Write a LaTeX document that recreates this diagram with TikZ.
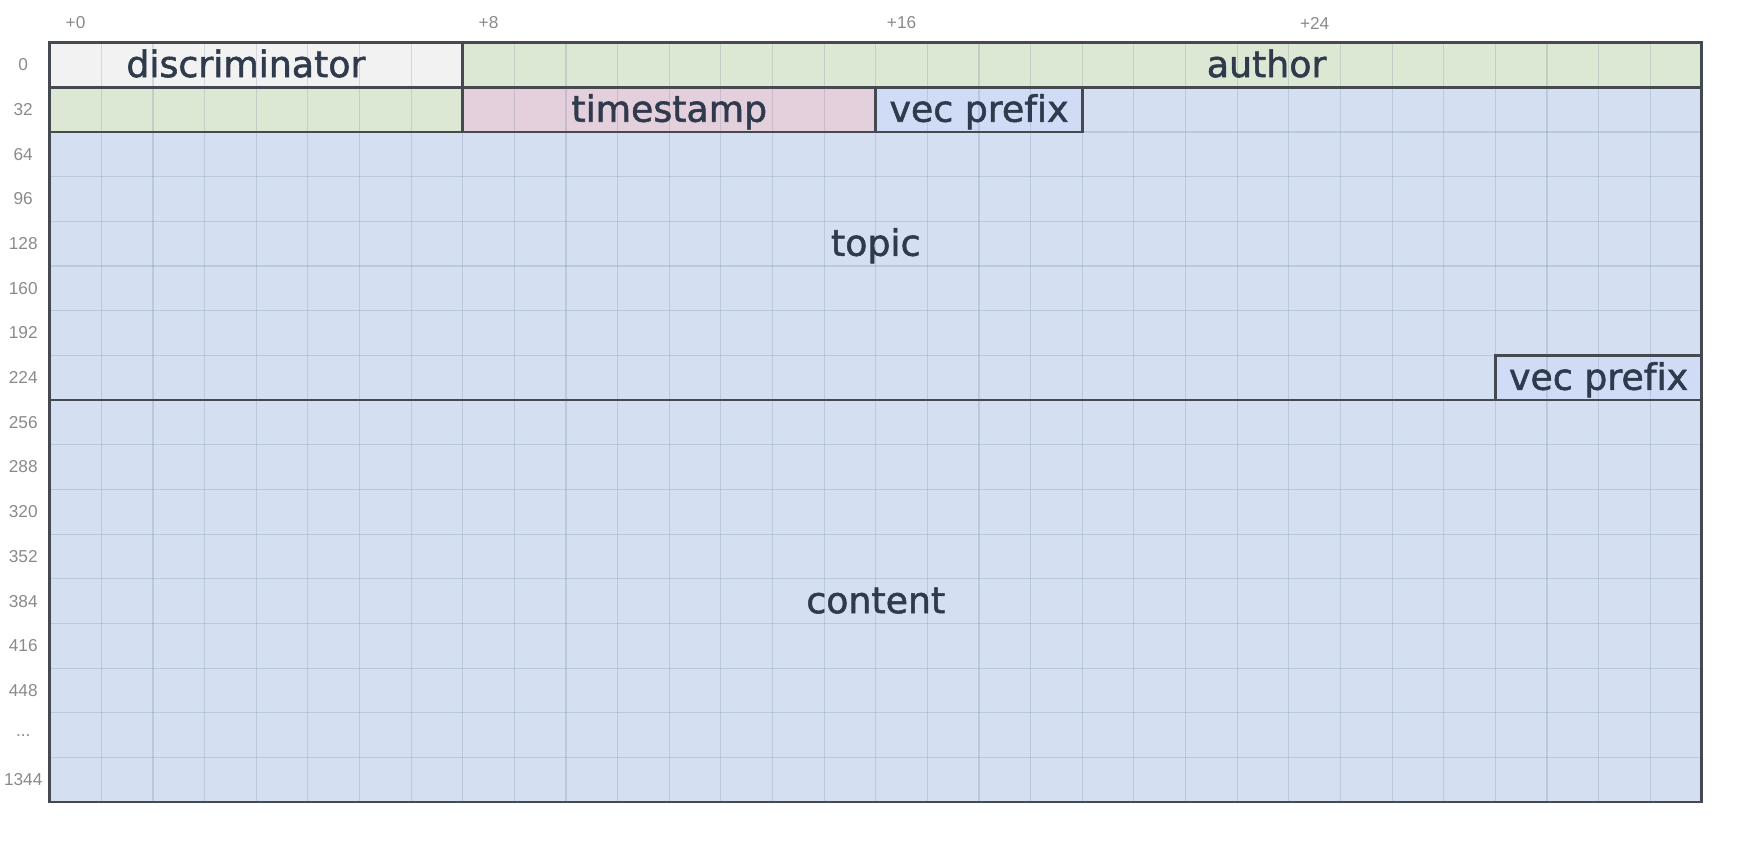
\documentclass[tikz,border=0pt]{standalone}
\usepackage{fontspec}
\setmainfont{DejaVu Sans}
\newfontfamily\namefont{DejaVu Sans}[FakeBold=1.5, Ligatures=NoCommon]
\newfontfamily\offsetfont{Liberation Sans}

\definecolor{discfill}{HTML}{F2F2F2}
\definecolor{authorfill}{HTML}{DDE8D4}
\definecolor{stampfill}{HTML}{E4CFDC}
\definecolor{topicfill}{HTML}{D4E0F1}
\definecolor{vecfill}{HTML}{D0DCF6}
\definecolor{edgecol}{HTML}{454A50}
\definecolor{gridcol}{HTML}{5A6F8A}
\definecolor{namecol}{HTML}{2F3A4C}
\definecolor{offsetcol}{HTML}{8A8A8A}

\tikzset{
	gridline/.style={draw=gridcol, draw opacity=0.2, line width=0.6pt},
	fieldedge/.style={draw=edgecol, line width=1.5pt, line cap=rect},
	fieldname/.style={text=namecol, font=\namefont\fontsize{20}{24}\selectfont, anchor=base, inner sep=0pt},
	offsetlabel/.style={text=offsetcol, font=\offsetfont\fontsize{9.5}{11}\selectfont, inner sep=0pt}
}

\begin{document}
\begin{tikzpicture}[x=1cm, y=-0.8653cm]
	\useasboundingbox (-0.963,-0.955) rectangle (33.03,17.97);
	% 字段底色
	\fill [topicfill] (0,0) rectangle (32,17);
	\fill [discfill] (0,0) rectangle (8,1);
	\fill [authorfill] (8,0) rectangle (32,1);
	\fill [authorfill] (0,1) rectangle (8,2);
	\fill [stampfill] (8,1) rectangle (16,2);
	\fill [vecfill] (16,1) rectangle (20,2);
	\fill [vecfill] (28,7) rectangle (32,8);
	% 网格
	\foreach \c in {1,...,31}
		\draw [gridline] (\c,0) -- (\c,17);
	\foreach \r in {1,...,16}
		\draw [gridline] (0,\r) -- (32,\r);
	% 字段边框
	\draw [fieldedge] (0,1) -- (32,1);
	\draw [fieldedge] (8,0) -- (8,2);
	\draw [fieldedge] (0,2) -- (20,2);
	\draw [fieldedge] (16,1) -- (16,2);
	\draw [fieldedge] (20,1) -- (20,2);
	\draw [fieldedge] (28,8) -- (28,7) -- (32,7);
	\draw [fieldedge] (0,8) -- (32,8);
	\draw [fieldedge] (0,0) rectangle (32,17);
	% 字段名
	\node [fieldname] (disc) at (3.8,0.77) {discriminator};
	\node [fieldname] (author) at (23.57,0.77) {author};
	\node [fieldname] (stamp) at (12,1.77) {timestamp};
	\node [fieldname] (vecA) at (18,1.77) {vec prefix};
	\node [fieldname] (topic) at (16,4.77) {topic};
	\node [fieldname] (vecB) at (30,7.77) {vec prefix};
	\node [fieldname] (content) at (16,12.77) {content};
	% 字节偏移
	\node [offsetlabel] (off0) at (0.5,-0.44) {+0};
	\node [offsetlabel] (off8) at (8.5,-0.44) {+8};
	\node [offsetlabel] (off16) at (16.5,-0.44) {+16};
	\node [offsetlabel] (off24) at (24.5,-0.44) {+24};
	\foreach \r [evaluate=\r as \b using int(32*\r)] in {0,...,14}
		\node [offsetlabel] (row\r) at (-0.513,\r+0.5) {\b};
	\node [offsetlabel] (row15) at (-0.513,15.5) {...};
	\node [offsetlabel] (row16) at (-0.513,16.5) {1344};
\end{tikzpicture}
\end{document}
